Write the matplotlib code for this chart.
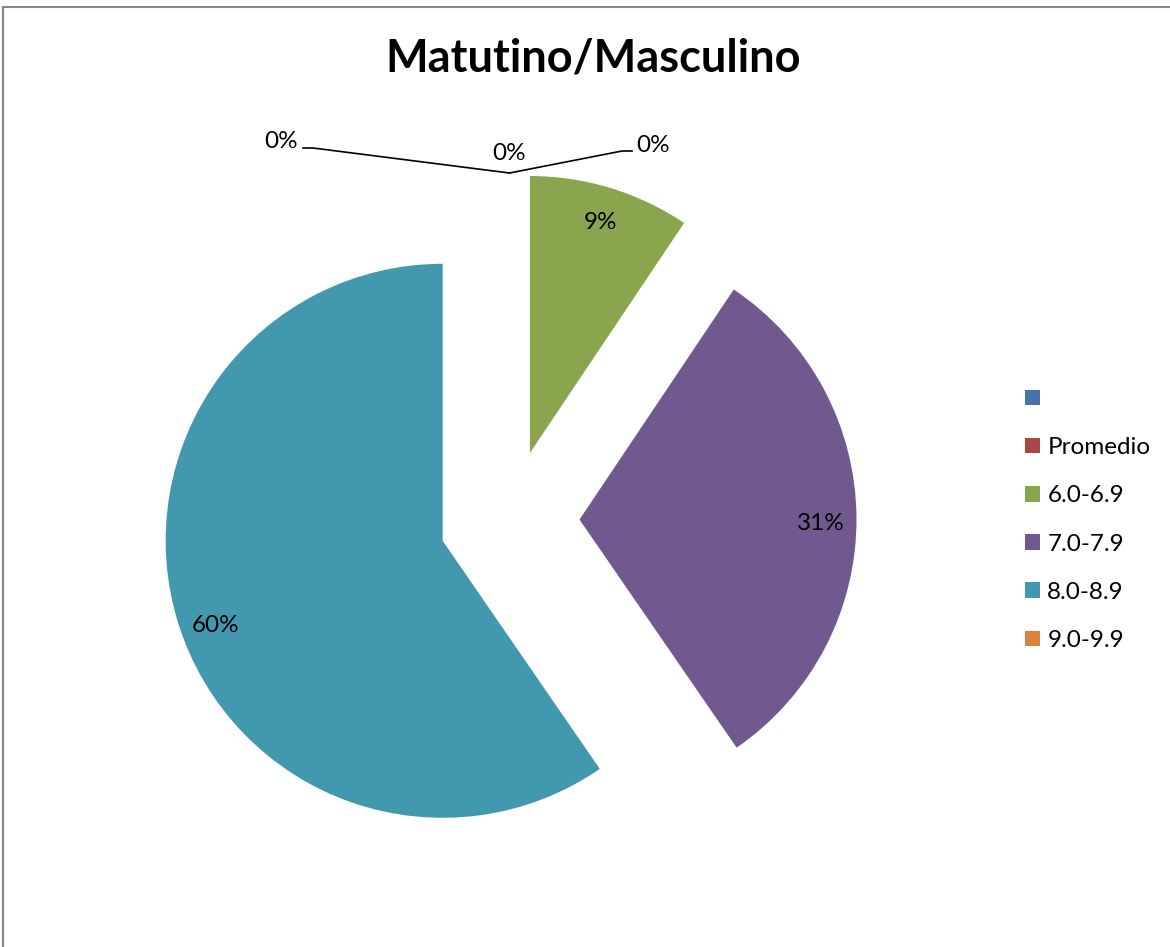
import matplotlib
matplotlib.use("Agg")
import matplotlib.pyplot as plt
from matplotlib.patches import Rectangle
import numpy as np

plt.rcParams['font.family'] = ['Lato', 'DejaVu Sans']

# share of each grade band (percent)
labels = ["", "Promedio", "6.0-6.9", "7.0-7.9", "8.0-8.9", "9.0-9.9"]
values = [0, 0, 9.4, 31.0, 59.6, 0]
colours = ["#4572A7", "#AA4643", "#89A54E", "#71588F", "#4198AF", "#DB843D"]

W, H = 1170, 947
FS = 17.5
fig = plt.figure(figsize=(W / 100, H / 100), dpi=100)
ax = fig.add_axes([0, 0, 1, 1])

def pct(p):
    return "%.0f%%" % p if p > 0 else ""

wedges, texts, autotexts = ax.pie(
    values, colors=colours, radius=277, center=(509.5, 427),
    explode=[70] * len(values), startangle=90, counterclock=False,
    autopct=pct, pctdistance=0.87,
    textprops=dict(fontsize=FS, color="black"))

# small nudges for the labels of the two big slices
for t, (dx, dy) in zip(autotexts[3:5], [(0, -5), (3, -13)]):
    x, y = t.get_position()
    t.set_position((x + dx, y + dy))

ax.set_xlim(0, W)
ax.set_ylim(0, H)
ax.set_aspect("equal")
ax.axis("off")

# zero slices: labels pulled out with leader lines from the tip at 12 o'clock
tip = wedges[0].center[0], wedges[0].center[1] + wedges[0].r
ax.plot([tip[0], 313, 303], [tip[1], H - 148, H - 148], color="black", lw=1.2)
ax.plot([tip[0], 622, 632], [tip[1], H - 151, H - 151], color="black", lw=1.2)
ax.text(298, H - 141, "0%", ha="right", va="center", fontsize=FS)
ax.text(tip[0], H - 153, "0%", ha="center", va="center", fontsize=FS)
ax.text(636, H - 145, "0%", ha="left", va="center", fontsize=FS)

ax.text(593, H - 58, "Matutino/Masculino", ha="center", va="center",
        fontsize=32.5, fontweight="bold")

leg = ax.legend(wedges, labels, loc="center left",
                bbox_to_anchor=(1025 / W, (H - 520) / H),
                frameon=False, fontsize=FS, handlelength=0.62, handleheight=0.62,
                handletextpad=0.3, labelspacing=1.12, borderpad=0,
                borderaxespad=0)

# chart area border (runs off the right and bottom edges)
fig.patches.append(Rectangle((3 / W, -0.1), 1.2, (H - 7) / H + 0.1,
                             transform=fig.transFigure, fill=False,
                             edgecolor="#868686", lw=1.5))

fig.savefig("out.png", dpi=100)
